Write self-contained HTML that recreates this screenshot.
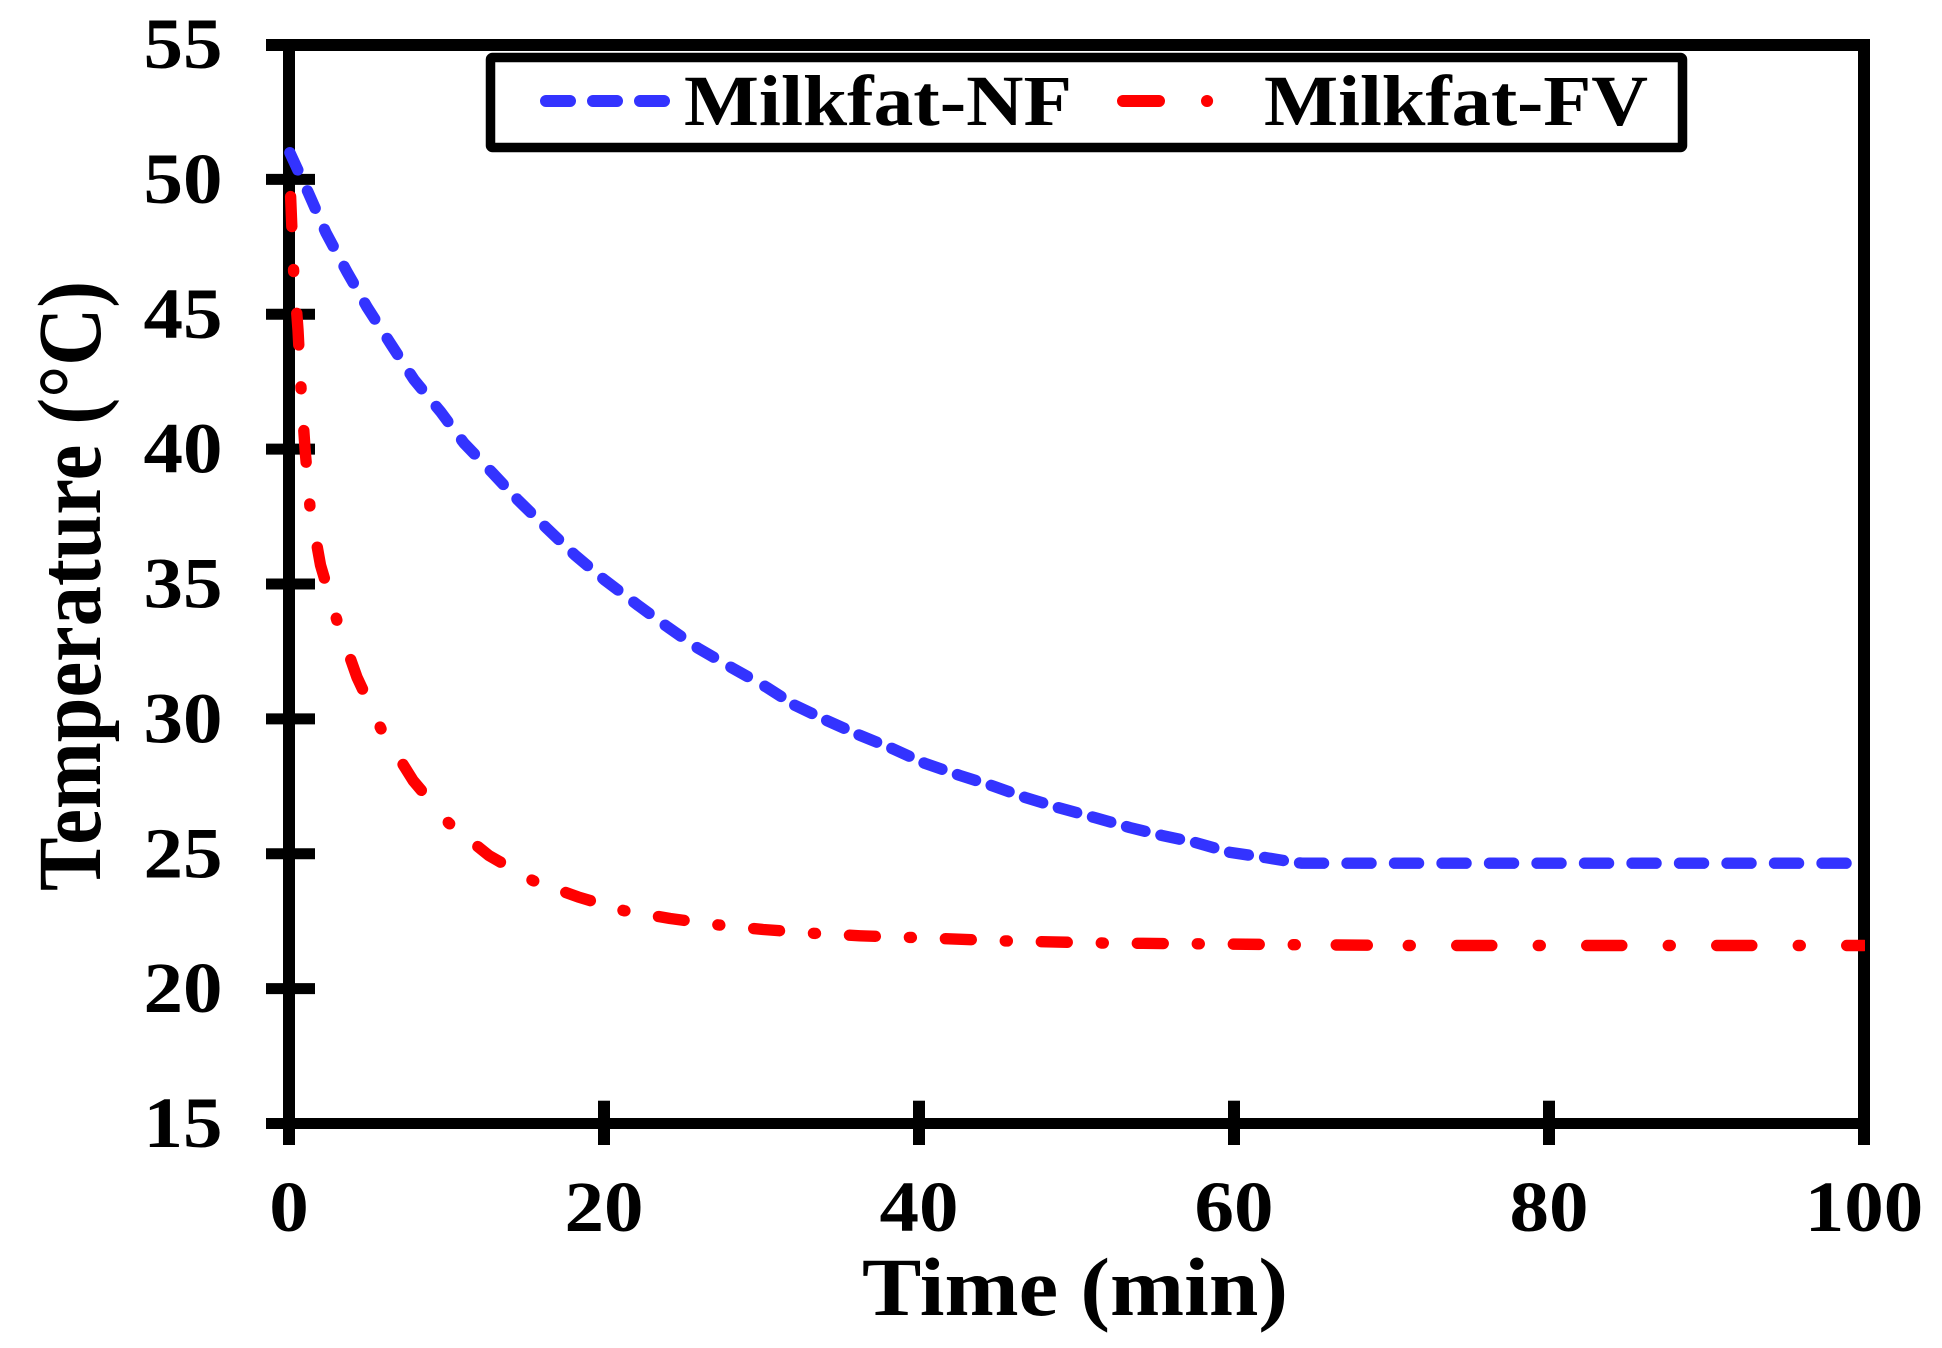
<!DOCTYPE html>
<html lang="en">
<head>
<meta charset="utf-8">
<title>Milkfat temperature over time</title>
<style>
html,body{margin:0;padding:0;background:#fff;width:1942px;height:1348px;overflow:hidden}
svg{display:block}
text{font-family:"Liberation Serif","Times New Roman",serif;font-weight:bold;fill:#000}
</style>
</head>
<body>
<svg id="chart" xmlns="http://www.w3.org/2000/svg" width="1942" height="1348" viewBox="0 0 1942 1348">
  <defs>
    <clipPath id="plot-clip"><rect x="0" y="0" width="1865" height="1348"/></clipPath>
  </defs>
  <rect x="0" y="0" width="1942" height="1348" fill="#fff"/>
  <g id="axes"></g>
  <g id="series" clip-path="url(#plot-clip)"></g>
  <g>
    <rect x="490.5" y="57.5" width="1192" height="90" rx="2" fill="#fff" stroke="#000" stroke-width="9.5"/>
    <line x1="546" y1="101" x2="664" y2="101" stroke="#3333ff" stroke-width="12" stroke-linecap="round" stroke-dasharray="24 23"/>
    <text x="684" y="125" font-size="72" textLength="388" lengthAdjust="spacingAndGlyphs">Milkfat-NF</text>
    <line x1="1123" y1="101" x2="1207.5" y2="101" stroke="#ff0000" stroke-width="12" stroke-linecap="round" stroke-dasharray="36 48 0.1 99"/>
    <text x="1264" y="125" font-size="72" textLength="384" lengthAdjust="spacingAndGlyphs">Milkfat-FV</text>
  </g>
  <text x="862" y="1315" font-size="83" textLength="426" lengthAdjust="spacingAndGlyphs">Time (min)</text>
  <text transform="translate(100,891) rotate(-90)" font-size="90" textLength="610" lengthAdjust="spacingAndGlyphs">Temperature (°C)</text>
</svg>
<script>
const xTickValues = [0, 20, 40, 60, 80, 100];
const yTickValues = [15, 20, 25, 30, 35, 40, 45, 50, 55];

const nfTimes = [0.06, 1.2, 2.35, 3.68, 4.95, 6.5, 7.94, 9.63, 11.1, 12.87, 14.54, 16.36, 18.16, 20.06, 22.16, 24.06, 25.97, 28.19, 30.33, 32.13, 34.14, 36.25, 38.27, 40.38, 42.6, 44.6, 46.73, 48.83, 51.17, 53.4, 55.41, 57.52, 59.75, 61.97, 63.55, 64.3, 100];
const nfTemps = [50.99, 49.54, 48.02, 46.57, 45.27, 43.86, 42.57, 41.38, 40.23, 39.15, 38.11, 37.07, 36.07, 35.14, 34.21, 33.4, 32.62, 31.87, 31.17, 30.5, 29.94, 29.39, 28.91, 28.35, 27.9, 27.53, 27.09, 26.71, 26.34, 25.97, 25.68, 25.42, 25.05, 24.86, 24.71, 24.65, 24.65];

const fvTimes = [0.1, 0.29, 0.57, 0.76, 1.02, 1.33, 2.0, 3.07, 4.32, 5.89, 7.87, 10.16, 12.7, 15.5, 18.35, 21.27, 24.2, 27.3, 30.1, 33.3, 36.25, 39.4, 45.4, 51.6, 57.7, 63.8, 71.1, 100];
const fvTemps = [49.36, 46.62, 44.42, 42.27, 39.97, 37.89, 35.7, 33.59, 31.54, 29.57, 27.72, 26.13, 24.93, 24.0, 23.4, 22.89, 22.6, 22.36, 22.19, 22.05, 21.96, 21.9, 21.77, 21.69, 21.66, 21.63, 21.6, 21.6];

const SVGNS = 'http://www.w3.org/2000/svg';
const axesLayer = document.getElementById('axes');
const seriesLayer = document.getElementById('series');

function xScale(t) { return 289 + (t - 0) * (1864 - 289) / 100; }
function yScale(v) { return 1123.5 - (v - 15) * (1123.5 - 44.5) / 40; }

function makeRect(x, y, w, h) {
  const r = document.createElementNS(SVGNS, 'rect');
  r.setAttribute('x', x);
  r.setAttribute('y', y);
  r.setAttribute('width', w);
  r.setAttribute('height', h);
  r.setAttribute('fill', '#000');
  axesLayer.appendChild(r);
  return r;
}

function makeTickLabel(x, y, str, len) {
  const t = document.createElementNS(SVGNS, 'text');
  t.setAttribute('x', x);
  t.setAttribute('y', y);
  t.setAttribute('font-size', '72');
  t.setAttribute('textLength', len);
  t.setAttribute('lengthAdjust', 'spacingAndGlyphs');
  t.textContent = str;
  axesLayer.appendChild(t);
  return t;
}

/* frame */
const frameTop = makeRect(266, 39, 1604, 12);


const frameBottom = makeRect(266, 1118, 1604, 11);


const frameLeft = makeRect(283, 39, 12, 1106);


const frameRight = makeRect(1858, 39, 12, 1106);



/* ticks and labels */
xTickValues.forEach(function (v) {
  const cx = xScale(v);
  const tick = makeRect(cx - 6, 1100.7, 12, 44.3);
  
  
  const str = String(v);
  const len = 39.5 * str.length;
  const label = makeTickLabel(cx - len / 2, 1231, str, len);
  
  
});
yTickValues.forEach(function (v) {
  const cy = yScale(v);
  const isBottom = v === yTickValues[0];
  const tick = makeRect(266, cy - 5.5, isBottom ? 17 : 49, 11);
  
  
  const label = makeTickLabel(143.5, cy + 23.5, String(v), 79);
  
  
});

function linePath(times, temps) {
  return times.map(function (t, i) {
    return (i ? 'L' : 'M') + xScale(t).toFixed(1) + ' ' + yScale(temps[i]).toFixed(1);
  }).join(' ');
}

/* dash rhythm of the reference: [number of repeats, repeat length] */
const nfDashRuns = [[9, 42], [9, 39], [16, 35.4], [14, 47.5]];
const fvDashRuns = [[5, 117.5], [1, 102], [8, 96], [1, 115], [5, 130]];

function nfDashArray() {
  const out = [];
  nfDashRuns.forEach(function (run) {
    const core = run[1] > 45 ? 24 : 19;
    for (let i = 0; i < run[0]; i++) { out.push(core, run[1] - core); }
  });
  return out.join(' ');
}

function fvDashArray() {
  const out = [30, 43];
  out.push(2);
  fvDashRuns.forEach(function (run) {
    const core = run[1] * 0.27;
    const gap = (run[1] - core) / 2 - 1;
    for (let i = 0; i < run[0]; i++) { out.push(gap, core, gap, 2); }
  });
  return out.join(' ');
}

const nfLine = document.createElementNS(SVGNS, 'path');


nfLine.setAttribute('d', linePath(nfTimes, nfTemps));
nfLine.setAttribute('fill', 'none');
nfLine.setAttribute('stroke', '#3333ff');
nfLine.setAttribute('stroke-width', '11.4');
nfLine.setAttribute('stroke-linecap', 'round');
nfLine.setAttribute('stroke-linejoin', 'round');
nfLine.setAttribute('stroke-dasharray', nfDashArray());
seriesLayer.appendChild(nfLine);

const fvLine = document.createElementNS(SVGNS, 'path');


fvLine.setAttribute('d', linePath(fvTimes, fvTemps));
fvLine.setAttribute('fill', 'none');
fvLine.setAttribute('stroke', '#ff0000');
fvLine.setAttribute('stroke-width', '11.4');
fvLine.setAttribute('stroke-linecap', 'round');
fvLine.setAttribute('stroke-linejoin', 'round');
fvLine.setAttribute('stroke-dasharray', fvDashArray());
seriesLayer.appendChild(fvLine);
</script>
</body>
</html>
